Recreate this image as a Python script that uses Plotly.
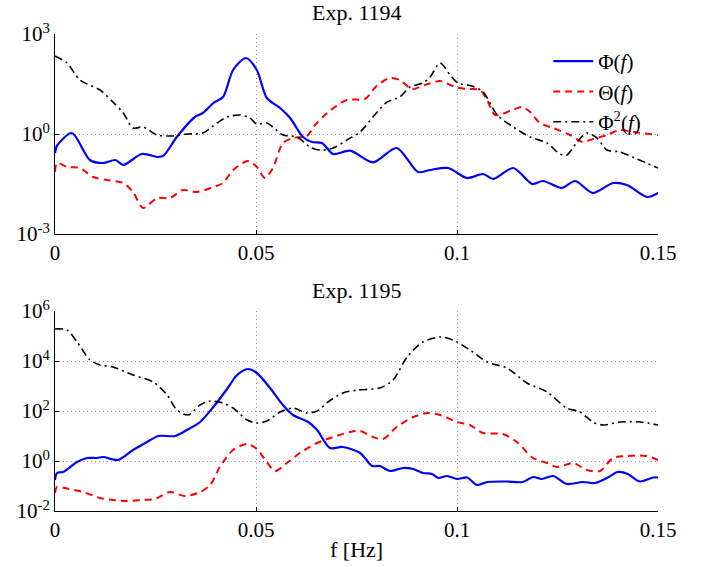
import plotly.graph_objects as go
import numpy as np

# ---------------- data (log10 of spectral values) -------------
# Exp. 1194
f_phi_1194 = [0, 0.0005, 0.0042, 0.0087, 0.012, 0.015, 0.017, 0.0216, 0.0257, 0.027, 0.0303,
              0.0348, 0.0368, 0.0394, 0.0418, 0.0443, 0.0475, 0.0502, 0.0527, 0.056, 0.0585,
              0.0617, 0.0639, 0.0664, 0.0692, 0.0734, 0.0791, 0.085, 0.0903, 0.0933, 0.0978,
              0.1025, 0.1065, 0.109, 0.114, 0.1187, 0.1214, 0.1261, 0.1294, 0.1338, 0.1388,
              0.1423, 0.1473, 0.15]
lg_phi_1194 = [-0.57, -0.35, 0.03, -0.78, -0.87, -0.78, -0.93, -0.6, -0.69, -0.65, -0.09,
               0.51, 0.63, 0.93, 1.11, 1.92, 2.28, 1.92, 1.08, 0.78, 0.48,
               -0.09, -0.24, -0.27, -0.6, -0.5, -0.85, -0.42, -1.14, -1.08, -1.02,
               -1.32, -1.2, -1.35, -1.02, -1.5, -1.41, -1.62, -1.41, -1.77, -1.47,
               -1.53, -1.89, -1.77]

f_theta_1194 = [0, 0.0005, 0.003, 0.0062, 0.0095, 0.0129, 0.017, 0.0194, 0.0219, 0.0254, 0.0286,
                0.0318, 0.0353, 0.0394, 0.0418, 0.0443, 0.048, 0.0502, 0.0522, 0.0542, 0.0567,
                0.0592, 0.0627, 0.0647, 0.0677, 0.0726, 0.0771, 0.08, 0.0833, 0.0858, 0.0888,
                0.092, 0.0958, 0.0995, 0.1025, 0.1057, 0.1075, 0.1095, 0.1132, 0.1162, 0.1182,
                0.1206, 0.1239, 0.1281, 0.1313, 0.1338, 0.1373, 0.1405, 0.1438, 0.15]
lg_theta_1194 = [-1.14, -0.87, -0.99, -1.02, -1.29, -1.38, -1.47, -1.74, -2.22, -1.92, -1.92,
                 -1.68, -1.74, -1.59, -1.47, -1.08, -0.81, -0.99, -1.32, -1.02, -0.27,
                 -0.12, -0.06, 0.27, 0.63, 1.02, 1.05, 1.44, 1.68, 1.62, 1.35,
                 1.47, 1.59, 1.41, 1.35, 1.32, 1.02, 0.57, 0.69, 0.81, 0.66,
                 0.33, 0.18, -0.03, -0.24, -0.15, -0.03, 0.12, 0.06, -0.03]

f_phi2_1194 = [0, 0.003, 0.0062, 0.0112, 0.0144, 0.017, 0.0194, 0.0219, 0.0254, 0.0286, 0.0328,
               0.0368, 0.0403, 0.0428, 0.046, 0.0485, 0.0502, 0.0527, 0.0542, 0.0567, 0.0602,
               0.0634, 0.0659, 0.0692, 0.0726, 0.0759, 0.0791, 0.0826, 0.0858, 0.0883, 0.0915,
               0.0933, 0.0958, 0.0983, 0.1003, 0.1037, 0.1065, 0.11, 0.114, 0.1182, 0.1224,
               0.1256, 0.1273, 0.1299, 0.1323, 0.1348, 0.1373, 0.1405, 0.1448, 0.15]
lg_phi2_1194 = [2.34, 2.13, 1.62, 1.32, 0.96, 0.63, 0.18, 0.21, -0.03, -0.06, 0.0,
                0.03, 0.33, 0.51, 0.57, 0.48, 0.3, 0.33, 0.21, -0.03, -0.09,
                -0.39, -0.48, -0.42, -0.18, 0.06, 0.51, 0.96, 1.11, 1.41, 1.53,
                1.71, 2.13, 1.77, 1.53, 1.44, 1.26, 0.57, 0.21, -0.09, -0.27,
                -0.6, -0.63, -0.24, 0.03, -0.12, -0.48, -0.54, -0.75, -1.02]

# Exp. 1195
f_phi_1195 = [0, 0.0005, 0.002, 0.0055, 0.008, 0.0104, 0.012, 0.0157, 0.0194, 0.0229, 0.0257,
              0.0299, 0.0328, 0.0361, 0.0394, 0.0428, 0.0453, 0.048, 0.0502, 0.0535, 0.0567,
              0.0592, 0.063, 0.0652, 0.0684, 0.0716, 0.0759, 0.0789, 0.0808, 0.0833, 0.0866,
              0.0891, 0.0915, 0.0938, 0.0953, 0.0975, 0.1, 0.1025, 0.105, 0.1075, 0.1124,
              0.1164, 0.1189, 0.1211, 0.1239, 0.1273, 0.1313, 0.1343, 0.1373, 0.14, 0.1425,
              0.1455, 0.1488, 0.15]
lg_phi_1195 = [-0.76, -0.48, -0.44, -0.04, 0.12, 0.12, 0.16, 0.04, 0.44, 0.76, 1.0,
               1.0, 1.24, 1.56, 2.16, 2.88, 3.44, 3.68, 3.52, 2.92, 2.24,
               1.84, 1.56, 1.24, 0.52, 0.56, 0.32, -0.2, -0.2, -0.4, -0.28,
               -0.32, -0.48, -0.52, -0.68, -0.6, -0.72, -0.66, -0.96, -0.84, -0.82,
               -0.84, -0.64, -0.72, -0.6, -0.92, -0.84, -0.88, -0.68, -0.44, -0.52,
               -0.82, -0.66, -0.66]

f_theta_1195 = [0, 0.0005, 0.003, 0.007, 0.0112, 0.0144, 0.0179, 0.0211, 0.0249, 0.0286, 0.0323,
                0.0361, 0.0386, 0.041, 0.0443, 0.0478, 0.0502, 0.0527, 0.0547, 0.0577, 0.0609,
                0.0652, 0.0692, 0.0734, 0.0759, 0.0791, 0.0816, 0.085, 0.0891, 0.0928, 0.0958,
                0.1, 0.1032, 0.1065, 0.1114, 0.1149, 0.1189, 0.1224, 0.1249, 0.1289, 0.1323,
                0.1356, 0.1388, 0.1423, 0.1473, 0.15]
lg_theta_1195 = [-1.28, -1.04, -1.1, -1.24, -1.48, -1.56, -1.6, -1.56, -1.52, -1.24, -1.4,
                 -1.24, -0.96, -0.24, 0.44, 0.68, 0.48, -0.04, -0.4, -0.08, 0.32,
                 0.72, 0.96, 1.16, 1.2, 0.96, 0.88, 1.36, 1.76, 1.92, 1.84,
                 1.56, 1.44, 1.12, 1.08, 0.76, 0.12, -0.08, -0.24, -0.08, -0.36,
                 -0.4, 0.12, 0.2, 0.2, 0.04]

f_phi2_1195 = [0, 0.003, 0.0055, 0.0087, 0.0112, 0.0144, 0.0194, 0.0244, 0.0279, 0.0303, 0.0331,
               0.0361, 0.0386, 0.0418, 0.0443, 0.0478, 0.0502, 0.0527, 0.056, 0.0592, 0.0627,
               0.0652, 0.0679, 0.0716, 0.0754, 0.0808, 0.0841, 0.0876, 0.0915, 0.0958, 0.099,
               0.1032, 0.1075, 0.1124, 0.1174, 0.1224, 0.1273, 0.1306, 0.1338, 0.1363, 0.1405,
               0.1455, 0.15]
lg_phi2_1195 = [5.28, 5.24, 4.76, 4.04, 3.84, 3.76, 3.44, 3.16, 2.64, 2.04, 1.84,
                2.24, 2.4, 2.32, 2.12, 1.64, 1.52, 1.6, 1.96, 2.12, 1.92,
                2.0, 2.36, 2.72, 2.84, 2.92, 3.24, 4.16, 4.76, 4.96, 4.84,
                4.44, 3.96, 3.72, 3.12, 2.76, 2.12, 1.96, 1.56, 1.44, 1.56,
                1.56, 1.44]

series_names = ["Φ(<i>f</i>)", "Θ(<i>f</i>)", "Φ<sup>2</sup>(<i>f</i>)"]
titles = ["Exp. 1194", "Exp. 1195"]
x_tickvals = [0, 0.05, 0.1, 0.15]
x_ticktext = ["0", "0.05", "0.1", "0.15"]
y1_exps = [-3, 0, 3]
y2_exps = [-2, 0, 2, 4, 6]

# ---------------- figure ----------------
FONT = "Liberation Serif, Times New Roman, serif"
styles = [dict(color="#0000ff", width=2.2, dash="solid"),
          dict(color="#ff0000", width=2.0, dash="7px,5px"),
          dict(color="#000000", width=1.6, dash="8px,4px,2px,4px")]

fig = go.Figure()
top = [(f_phi_1194, lg_phi_1194), (f_theta_1194, lg_theta_1194), (f_phi2_1194, lg_phi2_1194)]
bot = [(f_phi_1195, lg_phi_1195), (f_theta_1195, lg_theta_1195), (f_phi2_1195, lg_phi2_1195)]
for i, (fx, ly) in enumerate(top):
    assert len(fx) == len(ly)
    fig.add_trace(go.Scatter(x=fx, y=10 ** np.array(ly), mode="lines", name=series_names[i],
                             line=dict(shape="spline", smoothing=0.8, **styles[i]),
                             xaxis="x", yaxis="y", showlegend=True))
for i, (fx, ly) in enumerate(bot):
    assert len(fx) == len(ly)
    fig.add_trace(go.Scatter(x=fx, y=10 ** np.array(ly), mode="lines", name=series_names[i],
                             line=dict(shape="spline", smoothing=0.8, **styles[i]),
                             xaxis="x2", yaxis="y2", showlegend=False))

H_PLOT = 477.0
def py(p):
    return (511 - p) / H_PLOT

GRID = "#9a9a9a"
xcommon = dict(range=[0, 0.15], tickvals=x_tickvals, ticktext=x_ticktext,
               ticks="inside", ticklen=4, tickcolor="black",
               showline=True, linecolor="black", linewidth=1, mirror=False,
               showgrid=True, gridcolor=GRID, griddash="1px,3px", gridwidth=1,
               zeroline=False, tickfont=dict(family=FONT, size=21, color="black"))
ycommon = dict(type="log", ticks="inside", ticklen=4, tickcolor="black",
               showline=True, linecolor="black", linewidth=1, mirror=False,
               showgrid=True, gridcolor=GRID, griddash="1px,3px", gridwidth=1,
               zeroline=False, tickfont=dict(family=FONT, size=21, color="black"))

fig.update_layout(
    width=702, height=567,
    margin=dict(l=55, r=44, t=34, b=56, autoexpand=False),
    paper_bgcolor="white", plot_bgcolor="white",
    font=dict(family=FONT, size=21, color="black"),
    showlegend=True,
    xaxis=dict(domain=[0, 1], anchor="y", **xcommon),
    xaxis2=dict(domain=[0, 1], anchor="y2", **xcommon),
    yaxis=dict(domain=[py(234), 1], anchor="x", range=[-3, 3],
               tickvals=[10 ** e for e in y1_exps],
               ticktext=["10<sup>%d</sup>" % e for e in y1_exps], **ycommon),
    yaxis2=dict(domain=[0, py(311)], anchor="x2", range=[-2, 6],
                tickvals=[10 ** e for e in y2_exps],
                ticktext=["10<sup>%d</sup>" % e for e in y2_exps], **ycommon),
    legend=dict(x=0.818, y=py(41), xanchor="left", yanchor="top",
                bgcolor="rgba(255,255,255,0)", borderwidth=0,
                font=dict(family=FONT, size=21), itemwidth=40, tracegroupgap=0),
    annotations=[
        dict(text=titles[0], x=0.5, y=py(12), xref="paper", yref="paper",
             showarrow=False, xanchor="center", yanchor="middle",
             font=dict(family=FONT, size=22)),
        dict(text=titles[1], x=0.5, y=py(290), xref="paper", yref="paper",
             showarrow=False, xanchor="center", yanchor="middle",
             font=dict(family=FONT, size=22)),
        dict(text="f [Hz]", x=0.5, y=py(549), xref="paper", yref="paper",
             showarrow=False, xanchor="center", yanchor="middle",
             font=dict(family=FONT, size=22)),
    ],
)

# remove the browser's default 8px page margin so the figure fills the window exactly
fig.write_html("out.html",
               config={"displayModeBar": False},
               post_script="document.body.style.margin='0';document.body.style.overflow='hidden';")
